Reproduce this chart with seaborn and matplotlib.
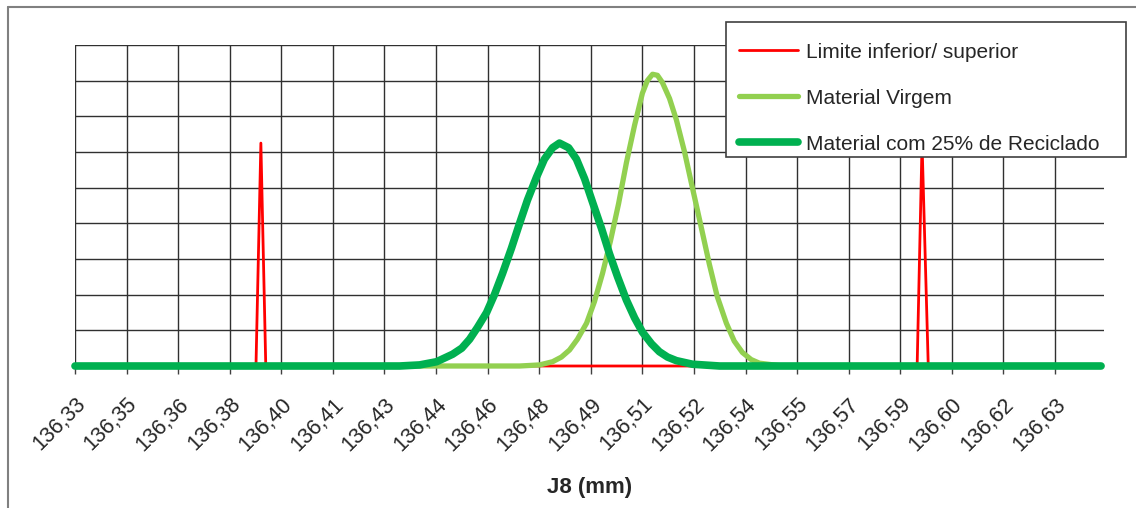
import numpy as np
import pandas as pd
import matplotlib.pyplot as plt
from matplotlib.lines import Line2D
from matplotlib.patches import Rectangle
import seaborn as sns

# --- data (x in mm, y in grid units) ---
TICK_LABELS = ["136,33", "136,35", "136,36", "136,38", "136,40", "136,41", "136,43",
               "136,44", "136,46", "136,48", "136,49", "136,51", "136,52", "136,54",
               "136,55", "136,57", "136,59", "136,60", "136,62", "136,63"]

LABEL_LIMITS = "Limite inferior/ superior"
LABEL_VIRGEM = "Material Virgem"
LABEL_REC = "Material com 25% de Reciclado"

# lower / upper specification limits (drawn as narrow spikes)
limits_x = [136.3300, 136.3854, 136.3869, 136.3884, 136.5878, 136.5893, 136.5912, 136.6441]
limits_y = [0.0, 0.0, 6.25, 0.0, 0.0, 6.25, 0.0, 0.0]

# virgin material distribution
virgem_x = [136.3300, 136.4661, 136.4722, 136.4762, 136.4789, 136.4814, 136.4838, 136.4866,
            136.4890, 136.4915, 136.4939, 136.4964, 136.4988, 136.5013, 136.5037, 136.5052,
            136.5068, 136.5083, 136.5098, 136.5120, 136.5141, 136.5166, 136.5190, 136.5218,
            136.5242, 136.5266, 136.5294, 136.5318, 136.5343, 136.5370, 136.5395, 136.5456,
            136.6441]
virgem_y = [0.0, 0.0, 0.03, 0.12, 0.25, 0.45, 0.75, 1.2, 1.8, 2.6, 3.5, 4.55, 5.7, 6.75,
            7.65, 8.0, 8.18, 8.15, 7.95, 7.5, 6.9, 6.0, 5.0, 3.85, 2.85, 1.95, 1.2, 0.7,
            0.38, 0.18, 0.08, 0.01, 0.0]

# material with 25% recycled
rec_x = [136.3300, 136.4294, 136.4355, 136.4407, 136.4456, 136.4484, 136.4508, 136.4532,
         136.4560, 136.4584, 136.4609, 136.4636, 136.4661, 136.4685, 136.4713, 136.4737,
         136.4762, 136.4783, 136.4811, 136.4835, 136.4860, 136.4884, 136.4912, 136.4936,
         136.4961, 136.4988, 136.5013, 136.5037, 136.5065, 136.5089, 136.5114, 136.5141,
         136.5190, 136.5273, 136.6441]
rec_y = [0.0, 0.0, 0.03, 0.12, 0.33, 0.5, 0.75, 1.08, 1.5, 2.0, 2.6, 3.3, 4.0, 4.65, 5.3,
         5.8, 6.12, 6.25, 6.12, 5.8, 5.25, 4.6, 3.85, 3.15, 2.5, 1.85, 1.35, 0.95, 0.62,
         0.4, 0.25, 0.15, 0.05, 0.0, 0.0]

X_MIN = 136.33
X_STEP = 0.3 / 19
X_MAX = 136.6450

sns.set_style("white")
plt.rcParams['font.family'] = ['Liberation Sans', 'DejaVu Sans']

W, H = 1136, 508
fig = plt.figure(figsize=(W / 100, H / 100), dpi=100)
ax = fig.add_axes([75 / W, 1 - 366 / H, (1104 - 75) / W, (366 - 45) / H])

sns.lineplot(x=limits_x, y=limits_y, ax=ax, color='#ff0000', lw=2.0, sort=False,
             estimator=None, label=LABEL_LIMITS, zorder=3, clip_on=False)
sns.lineplot(x=virgem_x, y=virgem_y, ax=ax, color='#92d050', lw=3.8, sort=False,
             estimator=None, label=LABEL_VIRGEM, zorder=4, solid_capstyle='round',
             solid_joinstyle='round', clip_on=False)
sns.lineplot(x=rec_x, y=rec_y, ax=ax, color='#00b050', lw=5.5, sort=False,
             estimator=None, label=LABEL_REC, zorder=5, solid_capstyle='round',
             solid_joinstyle='round', clip_on=False)

ticks = [X_MIN + i * X_STEP for i in range(len(TICK_LABELS))]
ax.set_xlim(X_MIN, X_MAX)
ax.set_ylim(0, 9)
ax.set_xticks(ticks)
ax.set_xticklabels(TICK_LABELS, rotation=45, ha='right', rotation_mode='anchor', fontsize=15.5)
ax.set_yticks(range(0, 10))
ax.set_yticklabels([])
ax.tick_params(axis='x', direction='out', length=6, width=1, color='#404040', pad=14, bottom=True)
ax.tick_params(axis='y', length=0)
ax.grid(True, color='#303030', lw=1.0)
for s in ax.spines.values():
    s.set_visible(False)
ax.set_xlabel("J8 (mm)", fontsize=16, fontweight='bold', labelpad=16)
ax.set_ylabel("")

# legend: box drawn separately so the entries can sit where they do in the reference
ax.get_legend().remove()
fig.add_artist(Rectangle((726 / W, 1 - 157 / H), 400 / W, 135 / H, transform=fig.transFigure,
                         facecolor='white', edgecolor='#404040', lw=1.2, zorder=10))
handles = [Line2D([], [], color='#ff0000', lw=2.0),
           Line2D([], [], color='#92d050', lw=3.8, solid_capstyle='round'),
           Line2D([], [], color='#00b050', lw=5.5, solid_capstyle='round')]
leg = fig.legend(handles, [LABEL_LIMITS, LABEL_VIRGEM, LABEL_REC], loc='upper left',
                 bbox_to_anchor=(726 / W, 1 - 30 / H), borderaxespad=0, fontsize=15,
                 frameon=False, handlelength=2.85, handletextpad=0.4, labelspacing=1.3,
                 borderpad=0.6)
leg.set_zorder(11)

# outer chart frame (partially cropped in the reference)
fig.add_artist(Line2D([8 / W, 8 / W], [0, 1 - 7 / H], color='#808080', lw=1.5))
fig.add_artist(Line2D([8 / W, 1], [1 - 7 / H, 1 - 7 / H], color='#808080', lw=1.5))

fig.savefig("out.png", dpi=100)
